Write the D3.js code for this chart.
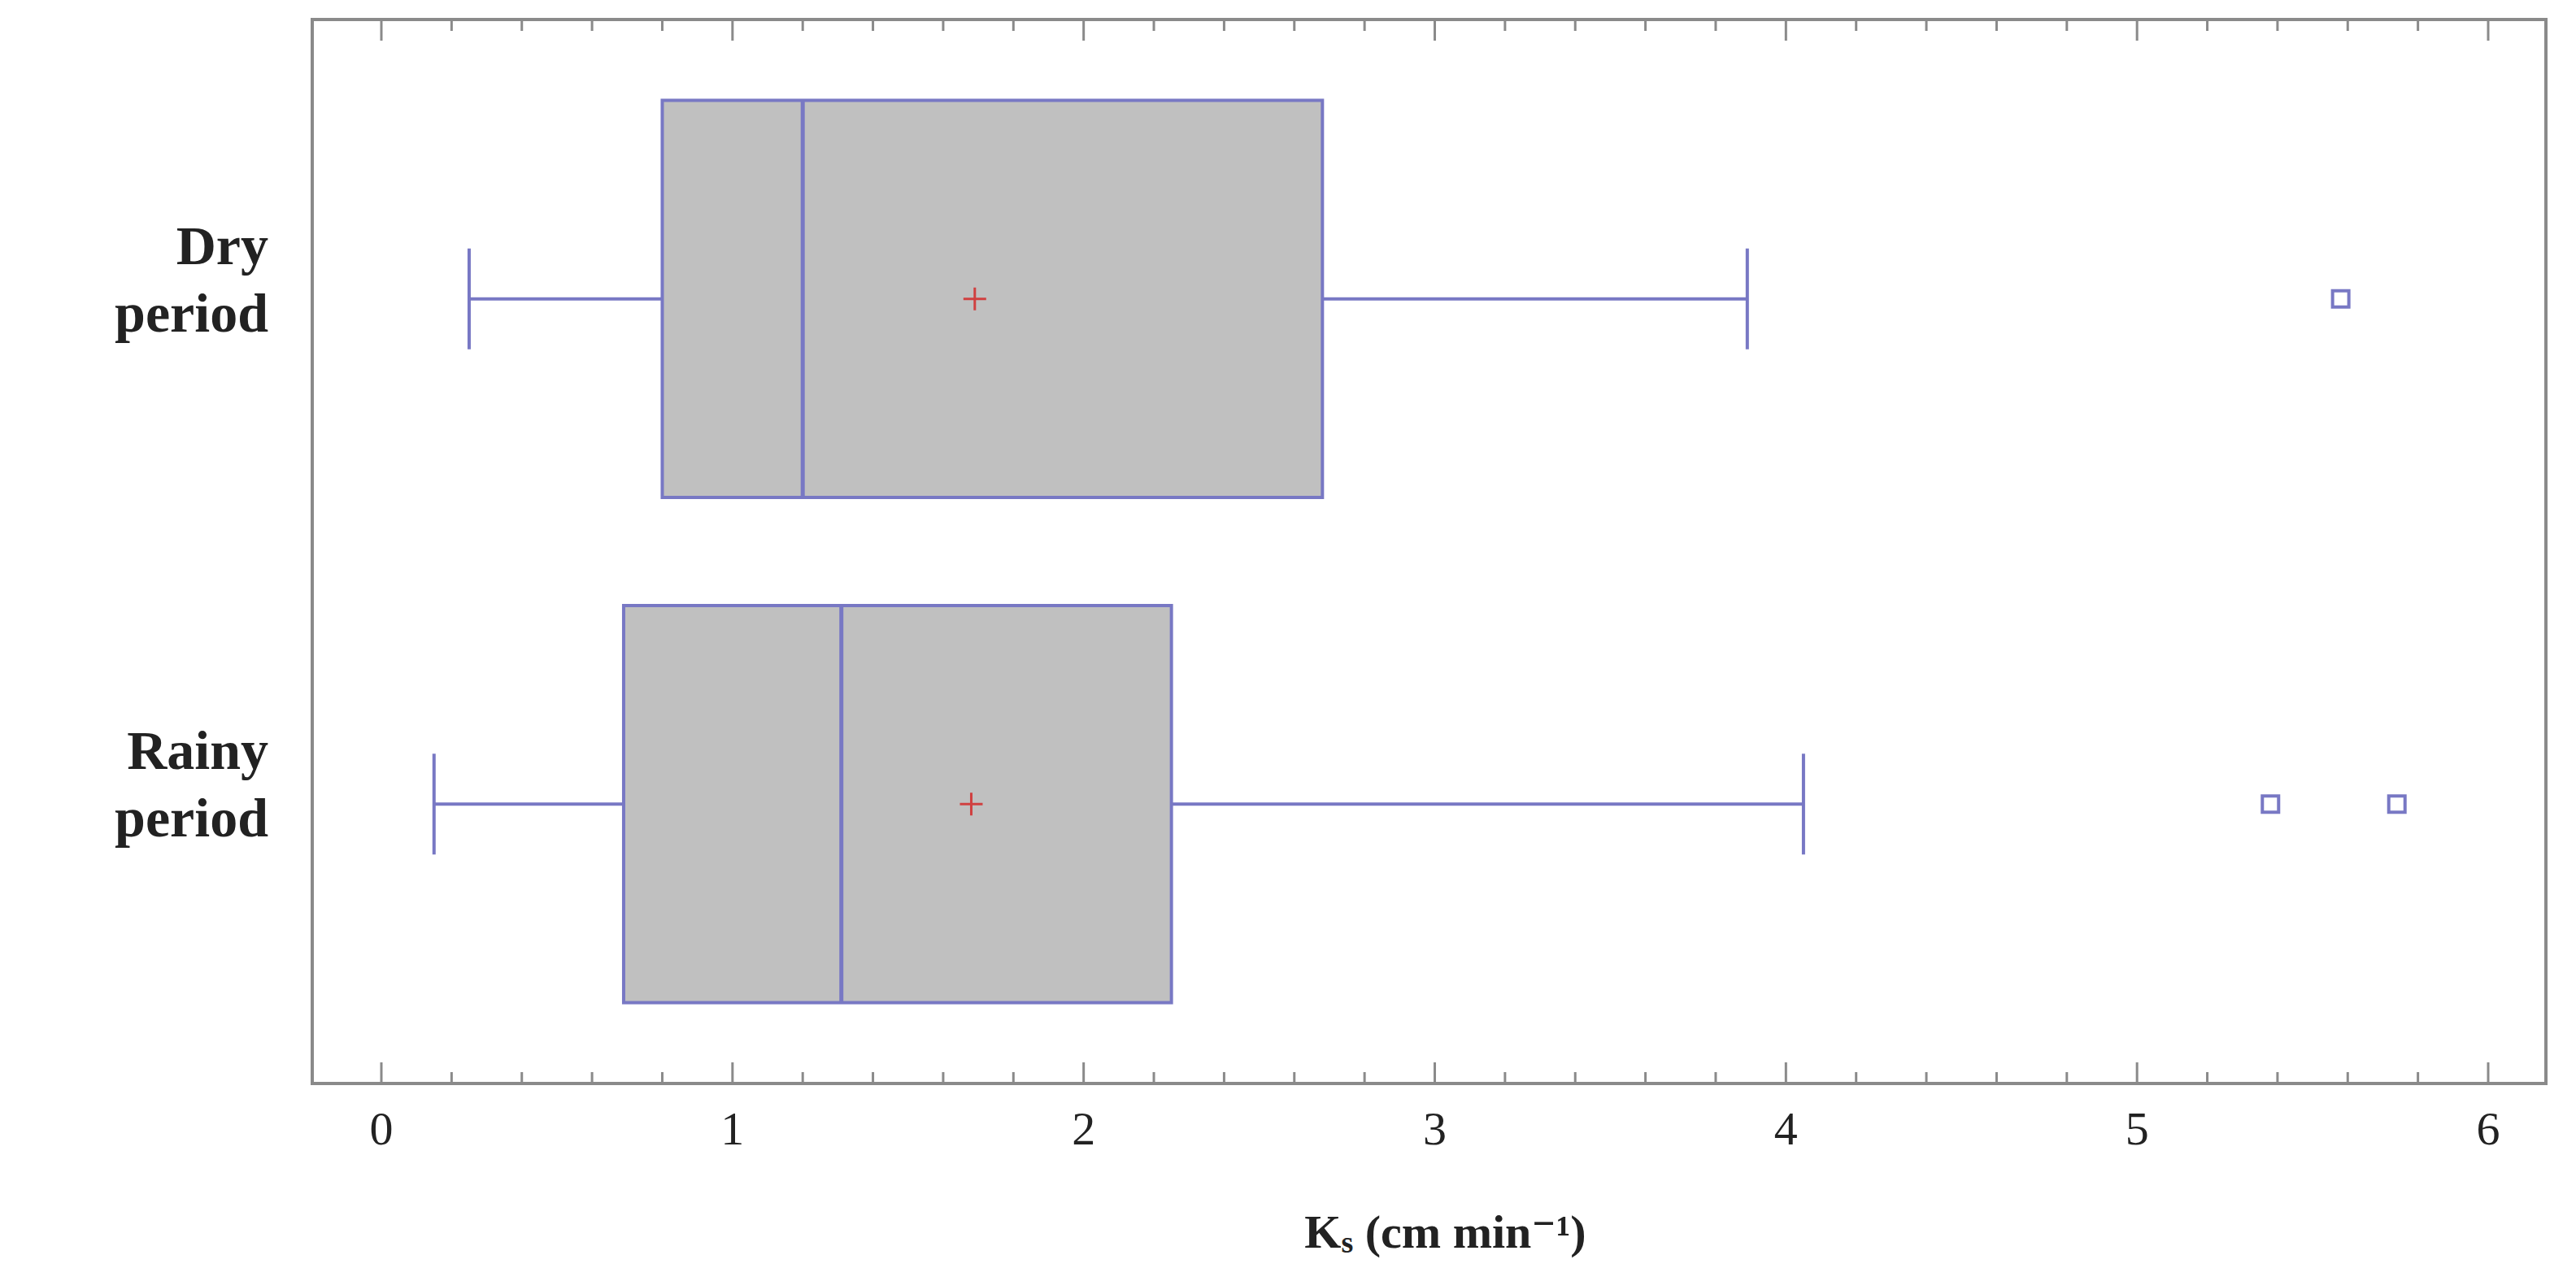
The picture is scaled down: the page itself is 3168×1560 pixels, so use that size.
<!DOCTYPE html><html><head><meta charset="utf-8"><script src="https://cdn.jsdelivr.net/npm/d3@7"></script>
<style>body{margin:0;background:#fff}</style></head><body><svg id="c" width="3168" height="1560"></svg><script>
const categories=["Dry period","Rainy period"];
const whiskerLow=[0.25,0.15], q1=[0.80,0.69], median=[1.20,1.31], mean=[1.69,1.68], q3=[2.68,2.25], whiskerHigh=[3.89,4.05];
const outliers=[[5.58],[5.38,5.74]];
const xTicks=[0,1,2,3,4,5,6];
const svg=d3.select("#c");
const L=384,R=3131,T=24,B=1333;
const x=d3.scaleLinear().domain([0,6]).range([469,3060]);
const y=d3.scaleBand().domain(categories).range([T,B]).paddingInner(0.214).paddingOuter(0.16);
const font="'Liberation Serif','DejaVu Serif',serif", stroke="#7878c4";
svg.append("rect").attr("x",L).attr("y",T).attr("width",R-L).attr("height",B-T).attr("fill","none").attr("stroke","#8a8a8a").attr("stroke-width",4);
const minor=d3.range(-0.8,6.81,0.2).map(v=>+v.toFixed(2)).filter(v=>x(v)>L+2&&x(v)<R-2);
[[T,1],[B,-1]].forEach(([yy,d])=>{
 svg.append("g").selectAll("line").data(minor).join("line").attr("x1",v=>x(v)).attr("x2",v=>x(v)).attr("y1",yy).attr("y2",v=>yy+d*(Math.abs(v-Math.round(v))<1e-6?26:14)).attr("stroke","#8a8a8a").attr("stroke-width",3);
});
svg.append("g").selectAll("text").data(xTicks).join("text").attr("x",v=>x(v)).attr("y",1408).attr("text-anchor","middle").attr("font-family",font).attr("font-size",58).attr("fill","#222").text(d=>d);
const xt=svg.append("text").attr("x",(L+R)/2+20).attr("y",1535).attr("text-anchor","middle").attr("font-family",font).attr("font-weight","bold").attr("font-size",58).attr("fill","#222");
xt.append("tspan").text("K");xt.append("tspan").attr("font-size",38).attr("dy",6).text("s");xt.append("tspan").attr("dy",-6).text(" (cm min⁻¹)");
categories.forEach((c,i)=>{
 const y0=y(c),h=y.bandwidth(),cy=y0+h/2;
 const w=c.split(" ");
 svg.append("text").attr("x",330).attr("y",cy-43).attr("text-anchor","end").attr("font-family",font).attr("font-weight","bold").attr("font-size",68).attr("fill","#222").text(w[0]);
 svg.append("text").attr("x",330).attr("y",cy+40).attr("text-anchor","end").attr("font-family",font).attr("font-weight","bold").attr("font-size",68).attr("fill","#222").text(w[1]);
 const g=svg.append("g").attr("stroke",stroke).attr("stroke-width",4);
 g.append("line").attr("x1",x(whiskerLow[i])).attr("x2",x(q1[i])).attr("y1",cy).attr("y2",cy);
 g.append("line").attr("x1",x(q3[i])).attr("x2",x(whiskerHigh[i])).attr("y1",cy).attr("y2",cy);
 [whiskerLow[i],whiskerHigh[i]].forEach(v=>g.append("line").attr("x1",x(v)).attr("x2",x(v)).attr("y1",cy-62).attr("y2",cy+62));
 g.append("rect").attr("x",x(q1[i])).attr("y",y0).attr("width",x(q3[i])-x(q1[i])).attr("height",h).attr("fill","#c0c0c0");
 g.append("line").attr("x1",x(median[i])).attr("x2",x(median[i])).attr("y1",y0).attr("y2",y0+h).attr("stroke-width",5);
 const mx=x(mean[i]);
 svg.append("path").attr("d",`M${mx-14},${cy}H${mx+14}M${mx},${cy-14}V${cy+14}`).attr("stroke","#d04040").attr("stroke-width",3);
 outliers[i].forEach(v=>svg.append("rect").attr("x",x(v)-10).attr("y",cy-10).attr("width",20).attr("height",20).attr("fill","#fff").attr("stroke",stroke).attr("stroke-width",4));
});
</script></body></html>
